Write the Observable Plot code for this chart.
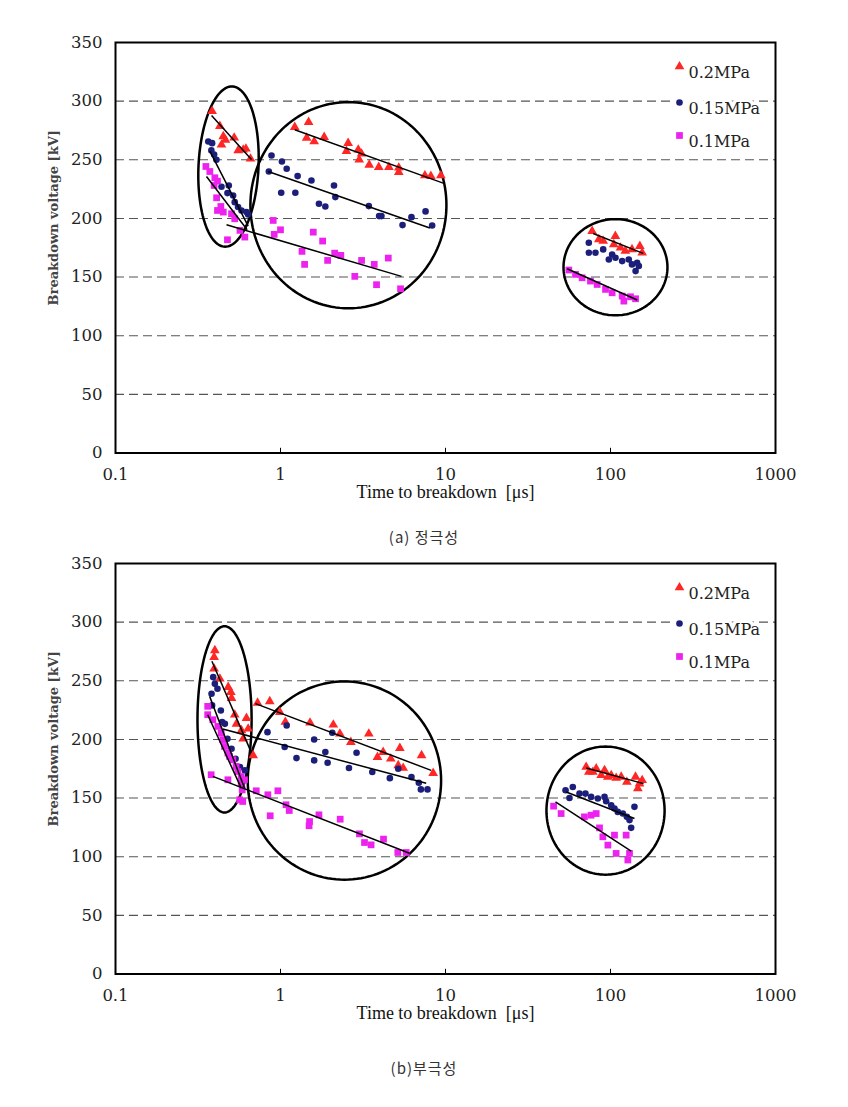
<!DOCTYPE html>
<html><head><meta charset="utf-8">
<script src="https://cdn.jsdelivr.net/npm/d3@7"></script>
<script src="https://cdn.jsdelivr.net/npm/@observablehq/plot@0.6"></script>
<style>
body{margin:0;background:#fff;}
#wrap{position:relative;width:848px;height:1107px;background:#fff;}
.chart{position:absolute;left:0;z-index:1;}
.cap{position:absolute;left:0;width:848px;text-align:center;font-family:"Noto Sans CJK KR","DejaVu Sans",sans-serif;font-size:15px;letter-spacing:1px;color:#333;line-height:20px;z-index:5;}
</style></head>
<body><div id="wrap">
<div id="ca" class="chart" style="top:0"></div>
<div class="cap" style="top:527px">(a) 정극성</div>
<div id="cb" class="chart" style="top:521px"></div>
<div class="cap" style="top:1058px">(b)부극성</div>
</div>
<script>
const seriesNames = ["0.2MPa", "0.15MPa", "0.1MPa"];
const seriesColors = ["#ff2626", "#1b1f7a", "#ee22ee"];
const seriesSymbols = ["triangle", "circle", "square"];
const yTicks = [0, 50, 100, 150, 200, 250, 300, 350];
const xTicks = [0.1, 1, 10, 100, 1000];
const gridValues = [50, 100, 150, 200, 250, 300];
const innerTicks = [1, 10, 100];
const xTitle = "Time to breakdown  [\u03bcs]";
const yTitle = "Breakdown voltage [kV]";

// (a) positive polarity: [time µs, kV]
const pos02 = [[0.385,291.5],[0.429,278.7],[0.45,269.9],[0.464,267],[0.439,262.8],[0.524,268.8],[0.554,258],[0.594,258.5],[0.617,259.4],[0.658,250.9],
 [1.22,277.8],[1.48,282.1],[1.44,268.7],[1.60,265.6],[1.84,269.3],[2.57,264.2],[2.51,257.4],[2.96,258.5],[3.10,255.1],[3.0,250],[3.45,245.7],[3.94,243.7],[4.54,243.7],[5.21,243.2],[5.21,239.5],[7.5,236.6],[8.15,236],[9.37,236.6],
 [77.4,189.2],[85,182.1],[90.3,180.7],[107,184.9],[104.7,177.8],[115,175],[123,172.2],[135,173.6],[150.6,176.4],[155.6,170.7]];
const pos015 = [[0.365,265.6],[0.385,264.2],[0.381,258],[0.396,254.5],[0.409,250],[0.439,227],[0.486,228.1],[0.477,221.6],[0.516,219.6],[0.528,213.9],[0.553,209.7],[0.58,206.8],[0.622,205.4],[0.637,203.4],
 [0.882,253.7],[1.02,248.6],[1.09,242.3],[0.85,240],[1.27,236.1],[1.54,232.4],[2.11,228.1],[2.15,218.2],[1.01,221.9],[1.23,221.9],[1.71,212.5],[1.87,210.2],[3.43,210.5],[3.96,202],[4.09,202],[5.49,194.3],[6.22,201.1],[7.57,206],[8.3,194],
 [73.9,179.3],[73.9,170.7],[81.1,170.7],[90.3,173.6],[97.7,165],[102.3,169.3],[107.2,166.5],[117.7,163.6],[129,165],[135,160.8],[145,162.2],[148.5,159.4],[141.9,155.1]];
const pos01 = [[0.353,244.3],[0.373,240],[0.4,234.7],[0.415,231.8],[0.396,228.1],[0.41,217.6],[0.435,210.2],[0.415,206.8],[0.45,205.4],[0.505,204],[0.528,199.7],[0.568,189.8],[0.608,184.1],[0.477,181.8],
 [0.903,198.3],[1.0,190.3],[0.916,186.4],[1.58,188.3],[1.8,180.7],[1.35,171.9],[1.4,160.8],[1.93,164.2],[2.13,170.4],[2.32,168.5],[3.1,164.2],[3.7,160.8],[4.5,166.2],[2.82,150.6],[3.82,143.5],[5.34,140],
 [55.9,156],[61.4,152.3],[67.3,149.4],[75.6,146.6],[83,143.7],[93.3,139.5],[102.3,136.6],[117.7,133.8],[120.5,129.5],[132.2,133.2],[141.9,131.5]];
// trend lines: [t1, v1, t2, v2]
const posFits = [[0.382,287.8,0.667,250.3],[1.22,275.6,9.68,230.1],[78.5,187.2,157.8,170.2],
 [0.373,257.4,0.637,193.5],[0.842,240,8.04,191.8],
 [0.356,235.8,0.628,190.3],[0.471,194.6,5.41,150.6],[54.6,157.1,145.2,130.4]];
// groups: [centre time, centre kV, half-width (decades), half-height (kV), lean (decades)]
const posGroups = [[0.484,244.2,0.182,68.3,0.02],[2.58,211.3,0.594,87.9,0],[107.2,158.4,0.315,41,0]];

// (b) negative polarity
const neg02 = [[0.4,275.9],[0.396,270.2],[0.396,260.2],[0.429,251.7],[0.482,244.6],[0.5,240.3],[0.505,235.2],[0.528,221],[0.541,213.3],[0.622,218.2],[0.58,207.7],[0.637,209.1],[0.594,200.6],[0.683,186.4],
 [0.726,231.2],[0.861,232.4],[0.991,223.3],[1.07,214.8],[1.51,214.2],[2.09,212.5],[2.29,204.8],[2.67,197.7],[3.43,204.8],[3.87,184.9],[4.19,189.2],[4.66,183.5],[5.29,192.6],[5.17,177.8],[5.54,175.6],[7.16,186.4],[8.42,171.3],
 [71.2,176.5],[73.9,172.2],[78.2,172.2],[81.9,175.1],[87.8,169.4],[92,173.7],[96.4,168],[101,169.4],[108.2,167.1],[116.1,168],[125.6,163.7],[141.8,168],[149.9,162.3],[155.6,165.2],[146.5,158.1]];
const neg015 = [[0.391,253.1],[0.4,247.4],[0.415,243.2],[0.382,238.9],[0.385,229],[0.435,224.7],[0.443,214.8],[0.46,213.3],[0.477,200.6],[0.505,192],[0.534,183.5],[0.568,176.4],[0.608,173.6],
 [0.834,206.2],[1.09,211.9],[1.06,193.5],[1.25,184.1],[1.6,200],[1.6,182.1],[1.87,189.2],[1.93,180.1],[2.06,205.7],[2.6,175.6],[2.89,188.6],[3.6,172.2],[4.6,167],[5.17,175],[6.22,167.9],[6.89,163.1],[7.09,157.4],[7.78,157.4],
 [53.4,156.7],[56.4,150.1],[59.1,159.5],[64.9,153.8],[70.5,153.8],[76.3,151],[83.8,149.6],[92,151],[94.1,147.3],[101,143.9],[105.7,141.1],[110.7,138.2],[118.8,136.8],[125.6,134],[130.4,131.2],[133.4,124.6],[139.7,142.5]];
const neg01 = [[0.362,228.2],[0.362,221.1],[0.389,216.8],[0.417,211.1],[0.437,205.5],[0.447,199.8],[0.458,194],[0.48,188.4],[0.491,185.5],[0.514,182.7],[0.538,177],[0.551,172.7],[0.578,168.4],[0.605,165.6],[0.38,169.9],[0.48,165.6],[0.578,162.8],[0.586,157],[0.565,148.5],[0.59,147.1],
 [0.713,156.2],[0.838,152.8],[0.964,156.2],[0.866,134.9],[1.08,144.3],[1.13,139.4],[1.5,130],[1.49,126.4],[1.71,135.7],[2.3,132],[3.01,119.5],[3.23,112.1],[3.54,110.1],[4.21,115],[5.14,103.6],[5.78,103.6],
 [45.2,143.1],[50.2,136.8],[69.5,134],[76.3,135.4],[81.9,136.8],[85.8,124.6],[89.9,117],[96.4,109.9],[108.2,102.8],[105.7,118.4],[124.4,118.4],[130.4,102.8],[127.4,97.2]];
const negFits = [[0.384,266.6,0.66,190],[0.705,230.5,8.19,173.6],[71.3,175.6,158.5,162.3],
 [0.372,236.7,0.605,158.5],[0.447,208.9,7.64,162.6],[53.9,155.2,139.7,132.6],
 [0.362,221,0.578,158.5],[0.389,168.5,6.05,103],[46.4,146.8,133.4,104.8]];
const negGroups = [[0.458,217.1,0.164,79.4,0],[2.44,164.9,0.586,84.5,0],[93.3,139.3,0.358,54.6,0]];

function groupOutline(groups) {
  const out = [];
  groups.forEach(([ct, cv, a, b, lean], k) => {
    for (let i = 0; i <= 144; i++) {
      const th = 2 * Math.PI * i / 144;
      out.push({k, t: ct * Math.pow(10, a * Math.cos(th) + lean * Math.sin(th)), v: cv + b * Math.sin(th)});
    }
  });
  return out;
}

const symbolR = [3.6, 3.3, 3.8];
const legendDy = [24, 60, 93];

function makeChart(series, fits, groups) {
  const marks = [
    Plot.gridY(gridValues, {stroke: "#555", strokeOpacity: 1, strokeWidth: 1.1, strokeDasharray: "9,5"}),
    Plot.line(groupOutline(groups), {x: "t", y: "v", z: "k", stroke: "black", strokeWidth: 2.5, curve: "linear"}),
  ];
  series.forEach((pts, i) => {
    marks.push(Plot.dot(pts, {x: d => d[0], y: d => d[1], symbol: seriesSymbols[i], fill: seriesColors[i], r: symbolR[i]}));
  });
  marks.push(
    Plot.link(fits, {x1: d => d[0], y1: d => d[1], x2: d => d[2], y2: d => d[3], stroke: "black", strokeWidth: 1.5}),
    Plot.frame({stroke: "black", strokeWidth: 2}),
    Plot.ruleX(innerTicks, {y1: 0, y2: 4, stroke: "black", strokeWidth: 1}),
    Plot.axisY({ticks: yTicks, tickSize: 0, tickPadding: 13, fontSize: 16.5, fontFamily: "DejaVu Serif", fill: "#222", label: null}),
    Plot.axisX({ticks: xTicks, tickSize: 0, tickPadding: 15, fontSize: 16.5, fontFamily: "DejaVu Serif", fill: "#222", label: null, tickFormat: d => String(d)}),
    Plot.text([xTitle], {frameAnchor: "bottom", dy: 45, text: d => d, fontSize: 18, fontFamily: "Liberation Serif", fill: "#111"}),
    Plot.text([yTitle], {frameAnchor: "left", dx: -62, dy: -30, rotate: -90, textAnchor: "middle", text: d => d, fontSize: 13, fontWeight: "bold", fontFamily: "DejaVu Serif", fill: "#444"})
  );
  seriesNames.forEach((name, i) => {
    marks.push(
      Plot.text([name], {frameAnchor: "top-right", dx: -87, dy: legendDy[i], text: d => d, textAnchor: "start", fontSize: 16, fontFamily: "DejaVu Serif", fill: "#222", stroke: "white", strokeWidth: 7, paintOrder: "stroke"}),
      Plot.dot([name], {frameAnchor: "top-right", dx: -96, dy: legendDy[i], symbol: seriesSymbols[i], fill: seriesColors[i], r: symbolR[i], stroke: "white", strokeWidth: 3, paintOrder: "stroke"})
    );
  });
  return Plot.plot({
    width: 848, height: 515,
    marginLeft: 115, marginRight: 73, marginTop: 42, marginBottom: 62.5,
    x: {type: "log", domain: [0.1, 1000]},
    y: {domain: [0, 350]},
    style: {background: "transparent", fontFamily: "DejaVu Serif", overflow: "visible"},
    marks
  });
}

document.getElementById("ca").append(makeChart([pos02, pos015, pos01], posFits, posGroups));
document.getElementById("cb").append(makeChart([neg02, neg015, neg01], negFits, negGroups));
</script>
</body></html>
